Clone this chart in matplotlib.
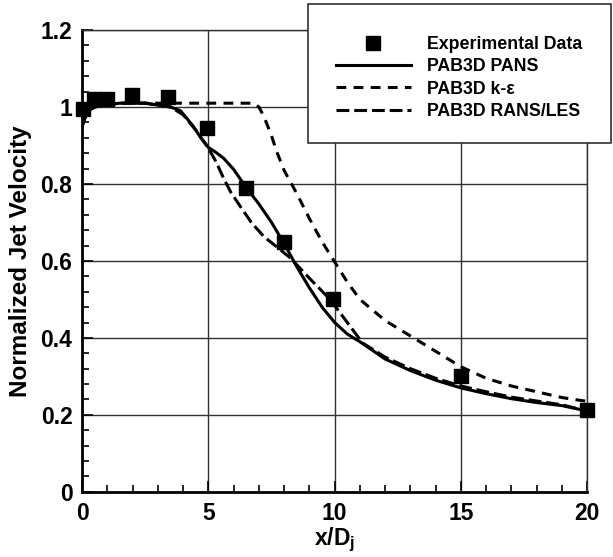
import matplotlib
matplotlib.use("Agg")
import matplotlib.pyplot as plt
from matplotlib.patches import Rectangle
from matplotlib.ticker import MultipleLocator, FuncFormatter

plt.rcParams['font.family'] = ['Liberation Sans', 'DejaVu Sans']
plt.rcParams['font.weight'] = 'bold'
plt.rcParams['mathtext.fontset'] = 'custom'
plt.rcParams['mathtext.rm'] = 'Liberation Sans:bold'
plt.rcParams['mathtext.it'] = 'Liberation Sans:bold'
plt.rcParams['mathtext.bf'] = 'Liberation Sans:bold'

# Experimental data
exp_x = [0.05, 0.45, 0.97, 1.97, 3.4, 4.95, 6.5, 8.0, 9.95, 15.0, 20.0]
exp_y = [0.995, 1.02, 1.02, 1.03, 1.025, 0.945, 0.79, 0.648, 0.50, 0.30, 0.213]

# PAB3D PANS
pans_x = [0, 0.1, 0.2, 0.35, 0.5, 0.8, 1.5, 2.5, 3.0, 3.5, 3.9, 4.4, 4.7, 5.0, 5.3, 5.6, 6.0, 6.5,
          7.0, 7.5, 8.0, 8.5, 9.0, 9.5, 10.0, 10.5, 11.0, 12.0, 13.0, 14.0, 15.0, 16.0,
          17.0, 18.0, 19.0, 20.0]
pans_y = [0.95, 0.97, 0.985, 0.995, 1.0, 1.005, 1.01, 1.01, 1.005, 1.0, 0.99, 0.95, 0.92,
          0.895, 0.882, 0.867, 0.838, 0.79, 0.748, 0.70, 0.645, 0.585, 0.53, 0.48, 0.44, 0.41,
          0.39, 0.345, 0.315, 0.29, 0.27, 0.255, 0.242, 0.232, 0.224, 0.21]

# PAB3D k-epsilon
ke_x = [0, 0.2, 0.5, 1.0, 2.0, 3.0, 4.0, 5.0, 6.0, 6.8, 7.0, 7.2, 7.5, 7.7, 8.0, 8.5, 9.0,
        9.5, 10.0, 10.5, 11.0, 12.0, 13.0, 14.0, 15.0, 16.0, 17.0, 18.0, 19.0, 20.0]
ke_y = [0.95, 0.99, 1.0, 1.01, 1.01, 1.01, 1.01, 1.01, 1.01, 1.01, 1.0, 0.975, 0.925, 0.885,
        0.835, 0.775, 0.71, 0.65, 0.597, 0.545, 0.50, 0.445, 0.405, 0.365, 0.325, 0.295,
        0.275, 0.26, 0.245, 0.235]

# PAB3D RANS/LES
rl_x = [0, 0.1, 0.2, 0.35, 0.5, 0.8, 1.5, 2.5, 3.0, 3.5, 4.0, 4.5, 5.0, 5.3, 5.6, 5.9, 6.26,
        6.7, 7.2, 7.7, 8.24, 9.0, 9.82, 10.5, 11.1, 12.0, 13.0, 14.0, 15.0, 16.0, 17.0,
        18.0, 19.0, 20.0]
rl_y = [0.95, 0.97, 0.985, 0.995, 1.0, 1.005, 1.01, 1.01, 1.005, 1.0, 0.98, 0.94, 0.893,
        0.858, 0.815, 0.777, 0.742, 0.70, 0.663, 0.637, 0.608, 0.555, 0.50, 0.44, 0.387,
        0.35, 0.32, 0.295, 0.275, 0.26, 0.246, 0.236, 0.226, 0.21]

labels = ['Experimental Data', 'PAB3D PANS', 'PAB3D k-ε', 'PAB3D RANS/LES']

fig = plt.figure(figsize=(6.13, 5.57), dpi=100)
ax = fig.add_axes([0.134, 0.117, 0.824, 0.829])

lw = 2.2
h0, = ax.plot(exp_x, exp_y, 's', color='black', markersize=9.5, linestyle='none',
              clip_on=False, zorder=5)
h1, = ax.plot(pans_x, pans_y, '-', color='black', lw=lw)
h2, = ax.plot(ke_x, ke_y, color='black', lw=lw, dashes=(3.2, 2.4))
h3, = ax.plot(rl_x, rl_y, color='black', lw=lw, dashes=(4.2, 1.6))

ax.set_xlim(0, 20)
ax.set_ylim(0, 1.2)
ax.xaxis.set_major_locator(MultipleLocator(5))
ax.xaxis.set_minor_locator(MultipleLocator(1))
ax.yaxis.set_major_locator(MultipleLocator(0.2))
ax.yaxis.set_minor_locator(MultipleLocator(0.04))
ax.yaxis.set_major_formatter(FuncFormatter(lambda v, p: ('%g' % round(v, 2))))
ax.grid(True, which='major', color='#303030', lw=1.0)
ax.tick_params(which='both', direction='in', labelsize=16.5, width=1.2, color='black')
ax.tick_params(which='major', length=8, pad=7)
ax.tick_params(which='minor', length=5)
for s in ['left', 'bottom']:
    ax.spines[s].set_linewidth(2.0)
for s in ['top', 'right']:
    ax.spines[s].set_linewidth(1.0)
    ax.spines[s].set_color('#303030')
for lab in ax.get_xticklabels() + ax.get_yticklabels():
    lab.set_fontweight('bold')

ax.set_xlabel(r'$x/D_j$', fontsize=16.5, labelpad=1)
ax.set_ylabel('Normalized Jet Velocity', fontsize=17.5, fontweight='bold', labelpad=6)

rect = Rectangle((308 / 613, 1 - 143 / 557), (611 - 308) / 613, (143 - 4) / 557,
                 transform=fig.transFigure, facecolor='white', edgecolor='#303030',
                 lw=1.2, zorder=3)
fig.patches.append(rect)

leg = fig.legend([h0, h1, h2, h3], labels, loc='upper left',
                 bbox_to_anchor=(327 / 613, 1 - 27 / 557), frameon=False,
                 prop={'weight': 'bold', 'size': 12.8}, handlelength=4.2,
                 handletextpad=0.9, labelspacing=0.3, borderpad=0)
leg.set_zorder(4)

fig.savefig('out.png', dpi=100)
